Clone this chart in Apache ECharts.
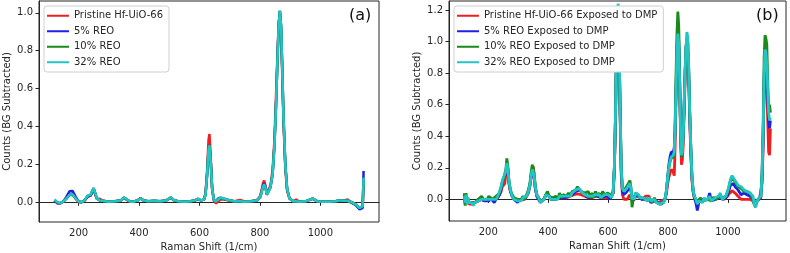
<!DOCTYPE html>
<html>
<head>
<meta charset="utf-8">
<script src="https://cdn.jsdelivr.net/npm/echarts@6/dist/echarts.min.js"></script>
<style>
  html, body { margin: 0; padding: 0; background: #fff; }
  #chart { width: 790px; height: 253px; }
</style>
</head>
<body>
<div id="chart"></div>
<script>
// panel (a): Raman shift positions and spectra
var xa = [
  120,125,130,140,150,160,170,175,180,190,
  200,210,220,230,240,245,250,255,260,270,
  275,280,290,300,320,340,350,360,370,380,
  395,405,415,430,450,470,490,505,515,530,
  550,570,585,595,605,615,620,625,630,633,
  637,642,648,655,662,670,680,690,700,715,
  735,750,770,790,800,805,810,814,818,823,
  828,835,842,848,853,858,862,866,870,874,
  878,884,890,898,910,920,930,950,975,990,
  1010,1030,1050,1065,1080,1090,1100,1110,1120,1130,
  1136,1140,1143
]
var redA = [
  0.01,0.0,-0.005,-0.005,0.005,0.02,0.04,0.05,0.045,0.02,
  0.0,0.0,0.01,0.03,0.035,0.05,0.065,0.045,0.02,0.018,
  0.015,0.008,0.005,0.003,0.005,0.01,0.022,0.012,0.004,0.003,
  0.01,0.022,0.01,0.005,0.006,0.005,0.01,0.022,0.01,0.005,
  0.003,0.005,0.01,0.015,0.01,0.015,0.05,0.16,0.33,0.36,
  0.25,0.07,0.005,-0.005,0.005,0.015,0.015,0.012,0.008,0.005,
  0.012,0.003,0.005,0.01,0.03,0.06,0.1,0.115,0.09,0.045,
  0.035,0.09,0.17,0.33,0.55,0.78,0.94,1.0,0.9,0.66,
  0.42,0.18,0.06,0.02,0.005,0.015,0.003,0.005,0.02,0.005,
  0.003,0.003,0.005,0.01,0.01,0.015,0.003,-0.005,-0.015,-0.03,
  -0.035,-0.02,0.1
]
var blueA = [
  0.01,0.0,-0.005,-0.005,0.005,0.03,0.058,0.065,0.06,0.03,
  0.005,0.0,0.01,0.03,0.035,0.055,0.07,0.045,0.02,0.01,
  0.008,0.008,0.005,0.003,0.005,0.01,0.025,0.015,0.004,0.003,
  0.01,0.02,0.01,0.005,0.008,0.005,0.01,0.025,0.012,0.005,
  0.003,0.005,0.01,0.018,0.01,0.015,0.04,0.14,0.28,0.3,
  0.22,0.07,0.01,0.008,0.02,0.025,0.018,0.015,0.01,0.005,
  0.006,0.003,0.005,0.01,0.025,0.05,0.085,0.1,0.085,0.04,
  0.03,0.08,0.15,0.3,0.5,0.75,0.93,1.01,0.93,0.7,
  0.45,0.2,0.07,0.02,0.005,0.005,0.003,0.005,0.018,0.005,
  0.003,0.003,0.005,0.01,0.008,0.008,0.0,-0.008,-0.02,-0.038,
  -0.045,-0.03,0.165
]
var greenA = [
  0.012,0.003,0.0,-0.005,0.005,0.02,0.038,0.043,0.04,0.02,
  0.005,0.0,0.01,0.035,0.04,0.06,0.075,0.05,0.02,0.01,
  0.008,0.008,0.005,0.003,0.005,0.01,0.025,0.015,0.004,0.003,
  0.01,0.02,0.01,0.005,0.008,0.005,0.01,0.025,0.012,0.005,
  0.003,0.005,0.01,0.018,0.01,0.015,0.04,0.14,0.28,0.3,
  0.22,0.07,0.01,0.005,0.015,0.02,0.02,0.015,0.01,0.005,
  0.006,0.003,0.005,0.01,0.025,0.05,0.08,0.09,0.08,0.04,
  0.03,0.08,0.15,0.3,0.5,0.75,0.93,1.01,0.93,0.7,
  0.45,0.2,0.07,0.02,0.005,0.005,0.003,0.005,0.02,0.005,
  0.003,0.003,0.005,0.01,0.008,0.008,0.002,-0.005,-0.015,-0.03,
  -0.035,-0.02,0.12
]
var cyanA = [
  0.015,0.005,0.0,-0.005,0.005,0.02,0.04,0.045,0.042,0.02,
  0.005,0.0,0.01,0.035,0.04,0.06,0.075,0.05,0.02,0.01,
  0.008,0.008,0.005,0.003,0.005,0.01,0.025,0.015,0.004,0.003,
  0.01,0.02,0.01,0.005,0.008,0.005,0.01,0.025,0.012,0.005,
  0.003,0.005,0.01,0.018,0.01,0.015,0.04,0.14,0.28,0.3,
  0.22,0.07,0.01,0.005,0.015,0.025,0.02,0.015,0.01,0.005,
  0.006,0.003,0.005,0.01,0.025,0.05,0.08,0.095,0.08,0.04,
  0.03,0.08,0.15,0.3,0.5,0.75,0.93,1.01,0.93,0.7,
  0.45,0.2,0.07,0.02,0.005,0.005,0.003,0.005,0.02,0.005,
  0.003,0.003,0.005,0.01,0.008,0.008,0.002,-0.005,-0.015,-0.03,
  -0.035,-0.02,0.13
]

// panel (b): exposed to DMP
var xb = [
  120,123,126,129,132,136,140,145,150,155,
  160,166,172,178,184,190,196,202,208,214,
  220,226,232,238,243,247,251,255,259,262,
  265,269,274,280,286,292,298,304,310,316,
  322,328,334,339,343,347,350,353,357,362,
  368,374,380,386,392,398,403,408,414,420,
  426,432,438,444,450,456,462,468,474,480,
  486,492,498,504,510,516,522,528,534,540,
  546,552,558,564,570,576,582,588,594,600,
  606,612,617,621,625,628,631,634,637,640,
  644,648,653,658,663,668,673,677,680,684,
  688,692,696,701,707,713,719,725,731,737,
  743,749,755,761,767,773,779,785,790,795,
  799,803,807,811,815,818,821,824,827,830,
  833,836,839,842,845,848,851,854,857,860,
  863,866,869,872,876,880,884,888,893,898,
  903,909,915,921,927,933,939,945,951,957,
  963,969,975,981,987,993,999,1004,1009,1014,
  1019,1024,1029,1034,1039,1044,1049,1054,1059,1064,
  1069,1074,1079,1084,1088,1092,1096,1100,1105,1110,
  1114,1118,1121,1124,1127,1130,1133,1136,1139,1142
]
var redB = [
  0.03,-0.03,0.02,-0.02,0.0,-0.03,-0.02,-0.03,-0.03,-0.02,
  -0.02,-0.01,-0.01,0.01,-0.01,0.0,0.0,-0.01,0.0,0.0,
  0.0,0.01,0.01,0.02,0.05,0.08,0.09,0.1,0.16,0.22,
  0.2,0.1,0.05,0.02,0.0,0.0,0.0,0.0,0.0,0.0,
  0.0,0.02,0.04,0.08,0.14,0.19,0.21,0.15,0.07,0.03,
  0.01,-0.01,-0.01,0.0,0.03,0.04,0.02,0.01,0.0,0.01,
  0.0,0.01,0.01,0.02,0.01,0.02,0.01,0.02,0.02,0.03,
  0.03,0.03,0.035,0.035,0.03,0.02,0.02,0.02,0.01,0.01,
  0.01,0.02,0.02,0.01,0.02,0.02,0.01,0.02,0.01,0.02,
  0.01,0.01,0.04,0.18,0.5,0.9,1.12,1.15,0.95,0.55,
  0.15,0.03,0.0,0.0,0.0,0.01,0.03,0.02,-0.01,0.0,
  0.0,0.02,0.03,0.02,0.01,0.0,0.01,0.02,0.03,0.02,
  -0.01,-0.01,0.0,-0.01,-0.02,-0.02,-0.01,-0.02,0.0,0.04,
  0.1,0.14,0.17,0.19,0.2,0.17,0.15,0.35,0.65,0.9,
  1.02,0.95,0.7,0.4,0.22,0.25,0.35,0.55,0.75,0.9,
  0.95,0.93,0.8,0.55,0.3,0.12,0.05,0.01,0.0,-0.02,
  0.0,-0.01,-0.01,0.0,0.0,0.01,0.0,-0.01,0.01,0.0,
  0.01,0.0,0.02,0.01,0.0,0.01,0.02,0.035,0.045,0.055,
  0.05,0.04,0.03,0.02,0.015,0.0,0.01,0.0,0.01,0.0,
  -0.01,0.0,-0.01,-0.01,-0.02,-0.03,-0.01,0.0,0.0,0.01,
  0.1,0.35,0.7,0.8,0.78,0.7,0.5,0.3,0.28,0.45
]
var blueB = [
  0.02,-0.02,0.02,-0.03,0.0,-0.02,-0.03,-0.02,-0.03,-0.02,
  -0.02,-0.01,-0.02,0.0,0.0,-0.01,0.0,-0.01,0.01,0.0,
  -0.02,0.0,0.01,0.03,0.07,0.11,0.13,0.12,0.17,0.23,
  0.2,0.11,0.05,0.02,0.0,-0.01,-0.02,0.0,0.0,0.0,
  0.0,0.02,0.05,0.09,0.15,0.19,0.2,0.14,0.07,0.02,
  0.01,-0.02,-0.01,0.0,0.03,0.04,0.02,0.0,0.01,0.0,
  0.0,0.01,0.01,0.01,0.02,0.01,0.02,0.02,0.02,0.03,
  0.04,0.05,0.06,0.06,0.05,0.04,0.03,0.02,0.02,0.01,
  0.01,0.02,0.02,0.02,0.02,0.01,0.02,0.02,0.01,0.02,
  0.0,0.0,0.04,0.2,0.55,0.95,1.18,1.2,0.98,0.58,
  0.18,0.05,0.03,0.04,0.05,0.06,0.08,0.05,0.0,0.01,
  0.0,0.03,0.04,0.02,0.01,0.0,0.0,0.0,-0.01,0.0,
  -0.02,-0.02,-0.01,-0.02,-0.02,-0.03,-0.03,-0.04,0.0,0.05,
  0.14,0.22,0.27,0.3,0.3,0.3,0.33,0.45,0.7,0.95,
  1.1,1.0,0.75,0.45,0.27,0.28,0.4,0.6,0.8,0.95,
  1.02,1.0,0.82,0.58,0.33,0.14,0.05,0.01,-0.02,-0.07,
  -0.02,0.0,-0.01,0.0,-0.01,0.0,0.04,-0.01,0.0,0.0,
  0.0,0.01,0.03,0.0,0.0,0.01,0.03,0.06,0.09,0.1,
  0.1,0.08,0.07,0.06,0.05,0.03,0.02,0.04,0.04,0.03,
  0.02,0.02,0.01,0.0,-0.03,-0.04,-0.02,0.0,0.0,0.01,
  0.13,0.42,0.78,0.92,0.9,0.8,0.65,0.5,0.45,0.5
]
var greenB = [
  0.04,-0.04,0.04,-0.02,0.01,-0.02,-0.02,-0.02,-0.03,-0.02,
  -0.02,0.0,-0.01,0.02,0.0,0.01,0.0,0.02,0.01,0.0,
  0.01,0.02,0.02,0.04,0.08,0.11,0.13,0.13,0.19,0.26,
  0.22,0.12,0.06,0.03,0.01,0.02,0.0,0.01,0.0,0.02,
  0.0,0.03,0.06,0.1,0.17,0.22,0.23,0.17,0.09,0.03,
  0.02,-0.01,-0.01,0.0,0.03,0.05,0.02,0.01,0.01,0.01,
  0.02,0.0,0.04,0.01,0.03,0.04,0.02,0.04,0.02,0.05,
  0.05,0.06,0.08,0.07,0.05,0.04,0.04,0.03,0.05,0.01,
  0.04,0.01,0.05,0.02,0.04,0.01,0.05,0.03,0.02,0.04,
  0.02,0.01,0.05,0.2,0.55,0.95,1.2,1.22,1.0,0.6,
  0.2,0.07,0.05,0.07,0.07,0.1,0.12,0.07,-0.05,0.0,
  0.0,0.04,0.05,0.03,0.01,0.0,0.01,0.0,-0.01,0.01,
  0.0,-0.02,0.01,-0.02,-0.01,-0.03,-0.02,-0.02,0.0,0.06,
  0.14,0.2,0.24,0.26,0.25,0.27,0.3,0.5,0.8,1.05,
  1.19,1.1,0.8,0.45,0.27,0.3,0.42,0.6,0.8,0.97,
  1.0,1.0,0.85,0.6,0.35,0.15,0.06,0.02,0.0,-0.02,
  -0.01,0.01,-0.02,0.0,0.01,0.0,0.01,-0.01,0.01,0.02,
  0.0,0.02,0.03,0.01,0.01,0.02,0.05,0.08,0.12,0.13,
  0.13,0.11,0.1,0.08,0.07,0.07,0.06,0.05,0.05,0.05,
  0.04,0.04,0.02,0.02,-0.03,-0.05,-0.02,0.0,0.0,0.02,
  0.17,0.5,0.9,1.04,1.02,0.98,0.75,0.55,0.6,0.55
]
var cyanB = [
  0.02,-0.02,0.03,-0.03,0.01,-0.02,-0.03,-0.02,-0.04,-0.02,
  -0.03,-0.01,-0.02,0.0,-0.01,0.0,-0.01,0.0,0.01,0.0,
  0.01,0.0,0.02,0.03,0.08,0.12,0.14,0.13,0.18,0.23,
  0.2,0.12,0.06,0.02,0.0,0.01,-0.01,0.0,-0.01,0.01,
  0.0,0.02,0.05,0.09,0.15,0.19,0.2,0.15,0.08,0.03,
  0.01,-0.02,-0.02,0.0,0.03,0.04,0.02,0.0,0.01,0.0,
  0.01,0.0,0.02,0.01,0.02,0.01,0.02,0.03,0.02,0.04,
  0.05,0.06,0.07,0.07,0.05,0.04,0.03,0.03,0.02,0.01,
  0.02,0.01,0.03,0.02,0.03,0.01,0.02,0.03,0.02,0.03,
  0.02,0.01,0.05,0.2,0.55,0.95,1.2,1.24,1.0,0.6,
  0.2,0.07,0.05,0.06,0.07,0.08,0.1,0.06,0.0,0.02,
  0.0,0.04,0.05,0.03,0.01,0.0,0.01,0.0,-0.01,0.01,
  -0.01,-0.02,0.0,-0.02,-0.01,-0.03,-0.02,-0.02,0.0,0.06,
  0.14,0.2,0.24,0.27,0.26,0.28,0.3,0.45,0.7,0.92,
  1.05,0.98,0.75,0.45,0.28,0.3,0.42,0.6,0.8,0.95,
  1.06,1.03,0.85,0.6,0.35,0.15,0.06,0.02,0.0,-0.03,
  -0.01,0.0,-0.02,0.01,-0.01,0.0,0.02,-0.01,0.0,0.01,
  0.0,0.02,0.04,0.0,0.01,0.02,0.05,0.09,0.13,0.15,
  0.14,0.12,0.11,0.09,0.08,0.08,0.07,0.06,0.06,0.05,
  0.05,0.04,0.03,0.02,-0.03,-0.05,-0.02,0.0,0.0,0.02,
  0.15,0.45,0.8,0.95,0.93,0.85,0.7,0.55,0.5,0.52
]

var namesA = ['Pristine Hf-UiO-66', '5% REO', '10% REO', '32% REO']
var namesB = ['Pristine Hf-UiO-66 Exposed to DMP', '5% REO Exposed to DMP', '10% REO Exposed to DMP', '32% REO Exposed to DMP']
var xTicks = [200, 400, 600, 800, 1000]
var yTicksA = [0, 0.2, 0.4, 0.6, 0.8, 1.0]
var yTicksB = [0, 0.2, 0.4, 0.6, 0.8, 1.0, 1.2]
var colors = ['#f01e1e', '#1f1fe6', '#1a8a1a', '#22c4c4']

var font = 'DejaVu Sans'
var ink = '#262626'

let pairs = (xs, ys) => xs.map((x, i) => [x, ys[i]])

let makeXAxis = (gridIndex) => ({
    type: 'value',
    gridIndex: gridIndex,
    min: 69,
    max: 1194,
    name: 'Raman Shift (1/cm)',
    nameLocation: 'middle',
    nameGap: 19,
    nameTextStyle: { fontFamily: font, fontSize: 10, color: ink },
    axisLine: { show: true, lineStyle: { color: ink, width: 1 } },
    axisTick: { show: true, length: 3.5, customValues: xTicks, lineStyle: { color: ink } },
    axisLabel: {
        customValues: xTicks, margin: 6, fontFamily: font, fontSize: 10, color: ink,
        formatter: (v) => String(v)
    },
    splitLine: { show: false }
})

let makeYAxis = (gridIndex, min, max, ticks) => ({
    type: 'value',
    gridIndex: gridIndex,
    min: min,
    max: max,
    name: 'Counts (BG Subtracted)',
    nameLocation: 'middle',
    nameGap: 27,
    nameTextStyle: { fontFamily: font, fontSize: 10, color: ink },
    axisLine: { show: true, lineStyle: { color: ink, width: 1 } },
    axisTick: { show: true, length: 3.5, customValues: ticks, lineStyle: { color: ink } },
    axisLabel: {
        customValues: ticks, margin: 6, fontFamily: font, fontSize: 10, color: ink,
        formatter: (v) => v.toFixed(1)
    },
    splitLine: { show: false }
})

let makeLegend = (names, left) => ({
    data: names,
    orient: 'vertical',
    left: left,
    top: 6,
    icon: 'rect',
    itemWidth: 22,
    itemHeight: 2,
    itemGap: 2,
    padding: [3, 6, 3, 3],
    backgroundColor: '#fff',
    borderColor: '#d0d0d0',
    borderWidth: 1,
    borderRadius: 3,
    selectedMode: false,
    textStyle: { fontFamily: font, fontSize: 10, lineHeight: 13.5, color: ink }
})

let seriesA = [redA, blueA, greenA, cyanA].map((ys, i) => ({
    name: namesA[i],
    type: 'line',
    xAxisIndex: 0,
    yAxisIndex: 0,
    data: pairs(xa, ys),
    showSymbol: false,
    color: colors[i],
    lineStyle: { width: 2.5 },
    emphasis: { disabled: true }
}))
let seriesB = [redB, blueB, greenB, cyanB].map((ys, i) => ({
    name: namesB[i],
    type: 'line',
    xAxisIndex: 1,
    yAxisIndex: 1,
    data: pairs(xb, ys),
    showSymbol: false,
    color: colors[i],
    lineStyle: { width: 2.8 },
    emphasis: { disabled: true }
}))

var chart = echarts.init(document.getElementById('chart'), null, { renderer: 'canvas' })
var option = {
    animation: false,
    backgroundColor: '#fff',
    grid: [
        { left: 39, top: 1, width: 340, height: 221, show: true, borderColor: ink, borderWidth: 1, outerBoundsMode: 'none', containLabel: false },
        { left: 449, top: 1, width: 337, height: 220, show: true, borderColor: ink, borderWidth: 1, outerBoundsMode: 'none', containLabel: false }
    ],
    xAxis: [makeXAxis(0), makeXAxis(1)],
    yAxis: [makeYAxis(0, -0.104, 1.062, yTicksA), makeYAxis(1, -0.137, 1.257, yTicksB)],
    legend: [makeLegend(namesA, 44), makeLegend(namesB, 454)],
    graphic: [
        { type: 'text', left: 349, top: 8, style: { text: '(a)', fontFamily: font, fontSize: 16, fill: '#111' } },
        { type: 'text', left: 756, top: 8, style: { text: '(b)', fontFamily: font, fontSize: 16, fill: '#111' } }
    ],
    series: seriesA.concat(seriesB)
}
chart.setOption(option)
</script>
</body>
</html>
